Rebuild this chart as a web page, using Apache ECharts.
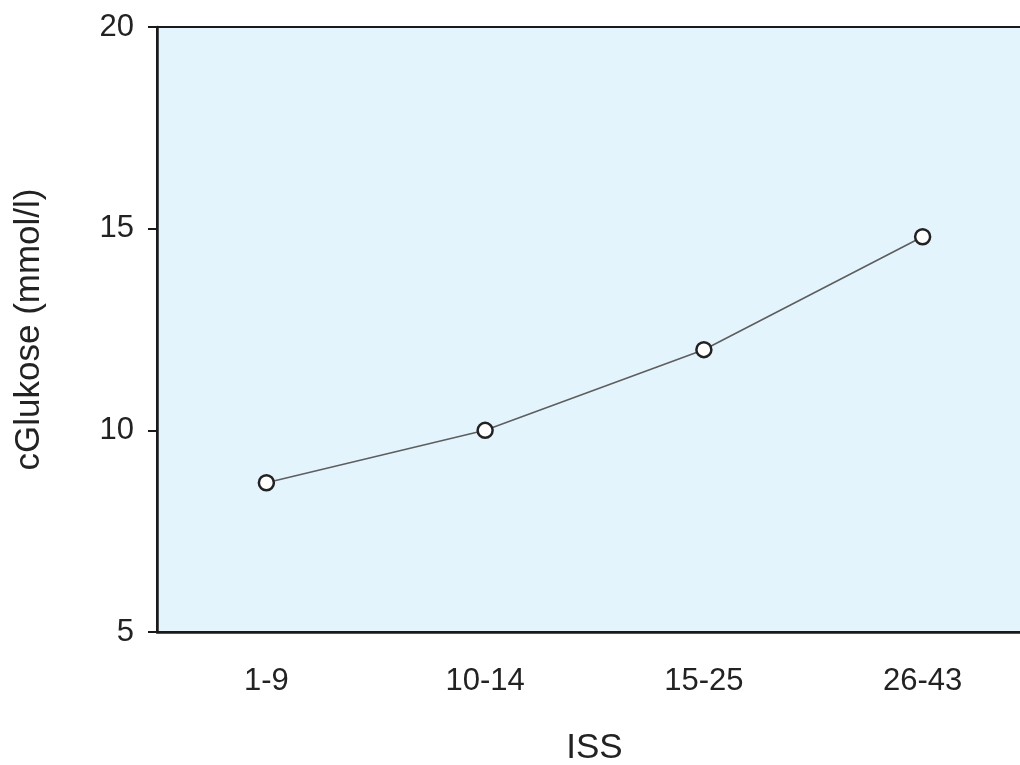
<!DOCTYPE html>
<html>
<head>
<meta charset="utf-8">
<script src="https://cdn.jsdelivr.net/npm/echarts@6/dist/echarts.min.js"></script>
<style>html,body{margin:0;padding:0;background:#fff}#c{width:1020px;height:765px}</style>
</head>
<body>
<div id="c"></div>
<script>
const categories = ['1-9', '10-14', '15-25', '26-43'];
const glucose = [8.7, 10.0, 12.0, 14.8];
const yTicks = [5, 10, 15, 20];
const xTitle = 'ISS';
const yTitle = 'cGlukose (mmol/l)';

const chart = echarts.init(document.getElementById('c'), null, {renderer: 'canvas'});
const font = 'Liberation Sans, Arial, sans-serif';
chart.setOption({
  animation: false,
  backgroundColor: '#ffffff',
  grid: {
    left: 157, top: 27, width: 875, height: 605,
    outerBoundsMode: 'none', containLabel: false,
    show: true, backgroundColor: '#E3F4FD', borderColor: '#1a1a1a', borderWidth: 2
  },
  xAxis: {
    type: 'category',
    data: categories,
    boundaryGap: true,
    name: xTitle,
    nameLocation: 'middle',
    nameGap: 99,
    nameTextStyle: {fontFamily: font, fontSize: 35, color: '#222'},
    axisLine: {lineStyle: {color: '#1a1a1a', width: 2.5}},
    axisTick: {alignWithLabel: true, length: 9, lineStyle: {color: '#1a1a1a', width: 2}},
    axisLabel: {fontFamily: font, fontSize: 31, color: '#222', margin: 34},
    splitLine: {show: false}
  },
  yAxis: {
    type: 'value',
    min: yTicks[0], max: yTicks[yTicks.length - 1], interval: 5,
    name: yTitle,
    nameLocation: 'middle',
    nameGap: 110,
    nameRotate: 90,
    nameTextStyle: {fontFamily: font, fontSize: 35, color: '#222'},
    axisLine: {show: true, lineStyle: {color: '#1a1a1a', width: 2.5}},
    axisTick: {show: true, length: 9, lineStyle: {color: '#1a1a1a', width: 2}},
    axisLabel: {fontFamily: font, fontSize: 31, color: '#222', margin: 23},
    splitLine: {show: false}
  },
  series: [{
    type: 'line',
    data: glucose,
    symbol: 'circle',
    symbolSize: 15,
    lineStyle: {color: '#5e5e5e', width: 1.6},
    itemStyle: {color: '#ffffff', borderColor: '#222', borderWidth: 2.5},
    z: 3
  }]
});
</script>
</body>
</html>
